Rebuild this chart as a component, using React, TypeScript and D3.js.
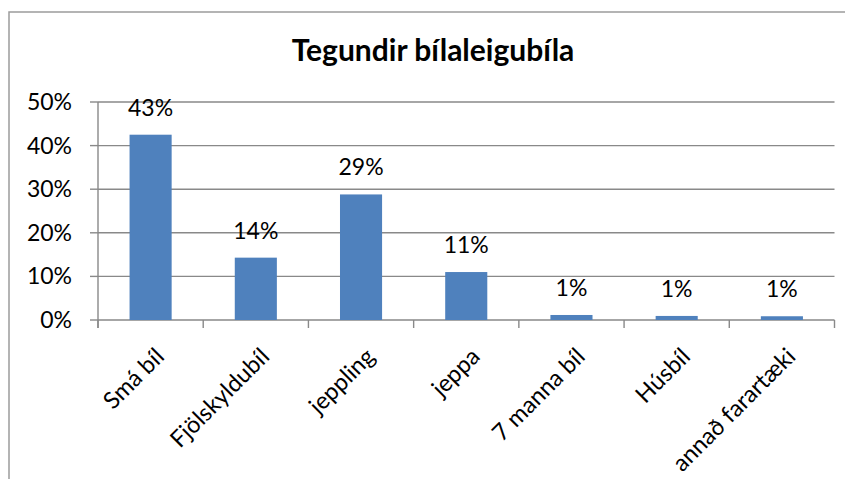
import * as d3 from "d3";
import { useEffect, useRef } from "react";

const categories = ["Smá bíl", "Fjölskyldubíl", "jeppling", "jeppa", "7 manna bíl", "Húsbíl", "annað farartæki"];
const values = [0.425, 0.143, 0.288, 0.11, 0.0115, 0.0093, 0.0086];
const yTicks = [0, 0.1, 0.2, 0.3, 0.4, 0.5];
const title = "Tegundir bílaleigubíla";

function App() {
  const ref = useRef<SVGSVGElement | null>(null);

  useEffect(() => {
    const svg = d3.select(ref.current);
    svg.selectAll("*").remove();

    const font = "Lato, 'Open Sans', sans-serif";
    const left = 98, right = 834.5, top = 102, bottom = 320;

    // chart frame
    svg.append("rect").attr("x", 9).attr("y", 12).attr("width", 900).attr("height", 520)
      .attr("fill", "white").attr("stroke", "#9c9c9c").attr("stroke-width", 1.5);

    const x = d3.scaleBand().domain(categories).range([left, right]).paddingInner(0.6).paddingOuter(0.3);
    const y = d3.scaleLinear().domain([0, 0.5]).range([bottom, top]);
    const step = x.step();

    // gridlines
    svg.append("g").selectAll("line").data(yTicks.slice(1)).join("line")
      .attr("x1", left).attr("x2", right).attr("y1", d => y(d)).attr("y2", d => y(d))
      .attr("stroke", "#898989").attr("stroke-width", 1.4);

    // y axis
    const ya = svg.append("g");
    ya.append("line").attr("x1", left).attr("x2", left).attr("y1", top).attr("y2", bottom + 8)
      .attr("stroke", "#898989").attr("stroke-width", 1.4);
    ya.selectAll("line.t").data(yTicks).join("line").attr("class", "t")
      .attr("x1", left - 8).attr("x2", left).attr("y1", d => y(d)).attr("y2", d => y(d))
      .attr("stroke", "#898989").attr("stroke-width", 1.4);
    ya.selectAll("text").data(yTicks).join("text")
      .attr("x", 72).attr("y", d => y(d) + 8)
      .attr("text-anchor", "end").attr("font-family", font).attr("font-size", 23).attr("fill", "#000")
      .text(d => d3.format(".0%")(d));

    // x axis
    const xa = svg.append("g");
    xa.append("line").attr("x1", left).attr("x2", right).attr("y1", bottom).attr("y2", bottom)
      .attr("stroke", "#898989").attr("stroke-width", 1.4);
    xa.selectAll("line.t").data(d3.range(categories.length + 1)).join("line").attr("class", "t")
      .attr("x1", i => left + i * step).attr("x2", i => left + i * step)
      .attr("y1", bottom).attr("y2", bottom + 8)
      .attr("stroke", "#898989").attr("stroke-width", 1.4);
    xa.selectAll("text").data(categories).join("text")
      .attr("transform", d => `translate(${(x(d) as number) + x.bandwidth() / 2 + 15},${bottom + 38}) rotate(-45)`)
      .attr("text-anchor", "end").attr("font-family", font).attr("font-size", 23.5).attr("fill", "#000")
      .text(d => d);

    // bars
    svg.append("g").selectAll("rect").data(values).join("rect")
      .attr("x", (_, i) => x(categories[i]) as number)
      .attr("width", x.bandwidth())
      .attr("y", d => y(d))
      .attr("height", d => bottom - y(d))
      .attr("fill", "#4F81BD");

    // value labels
    svg.append("g").selectAll("text").data(values).join("text")
      .attr("x", (_, i) => (x(categories[i]) as number) + x.bandwidth() / 2)
      .attr("y", d => y(d) - 19)
      .attr("text-anchor", "middle").attr("font-family", font).attr("font-size", 23).attr("fill", "#000")
      .text(d => d3.format(".0%")(d));

    // title
    svg.append("text").attr("x", 433).attr("y", 61)
      .attr("text-anchor", "middle").attr("font-family", font).attr("font-weight", "bold")
      .attr("font-size", 30).attr("fill", "#000").text(title);
  }, []);

  return (
    <svg ref={ref} width={845} height={479}
      style={{ position: "absolute", left: 0, top: 0, background: "white" }} />
  );
}

export default App;
